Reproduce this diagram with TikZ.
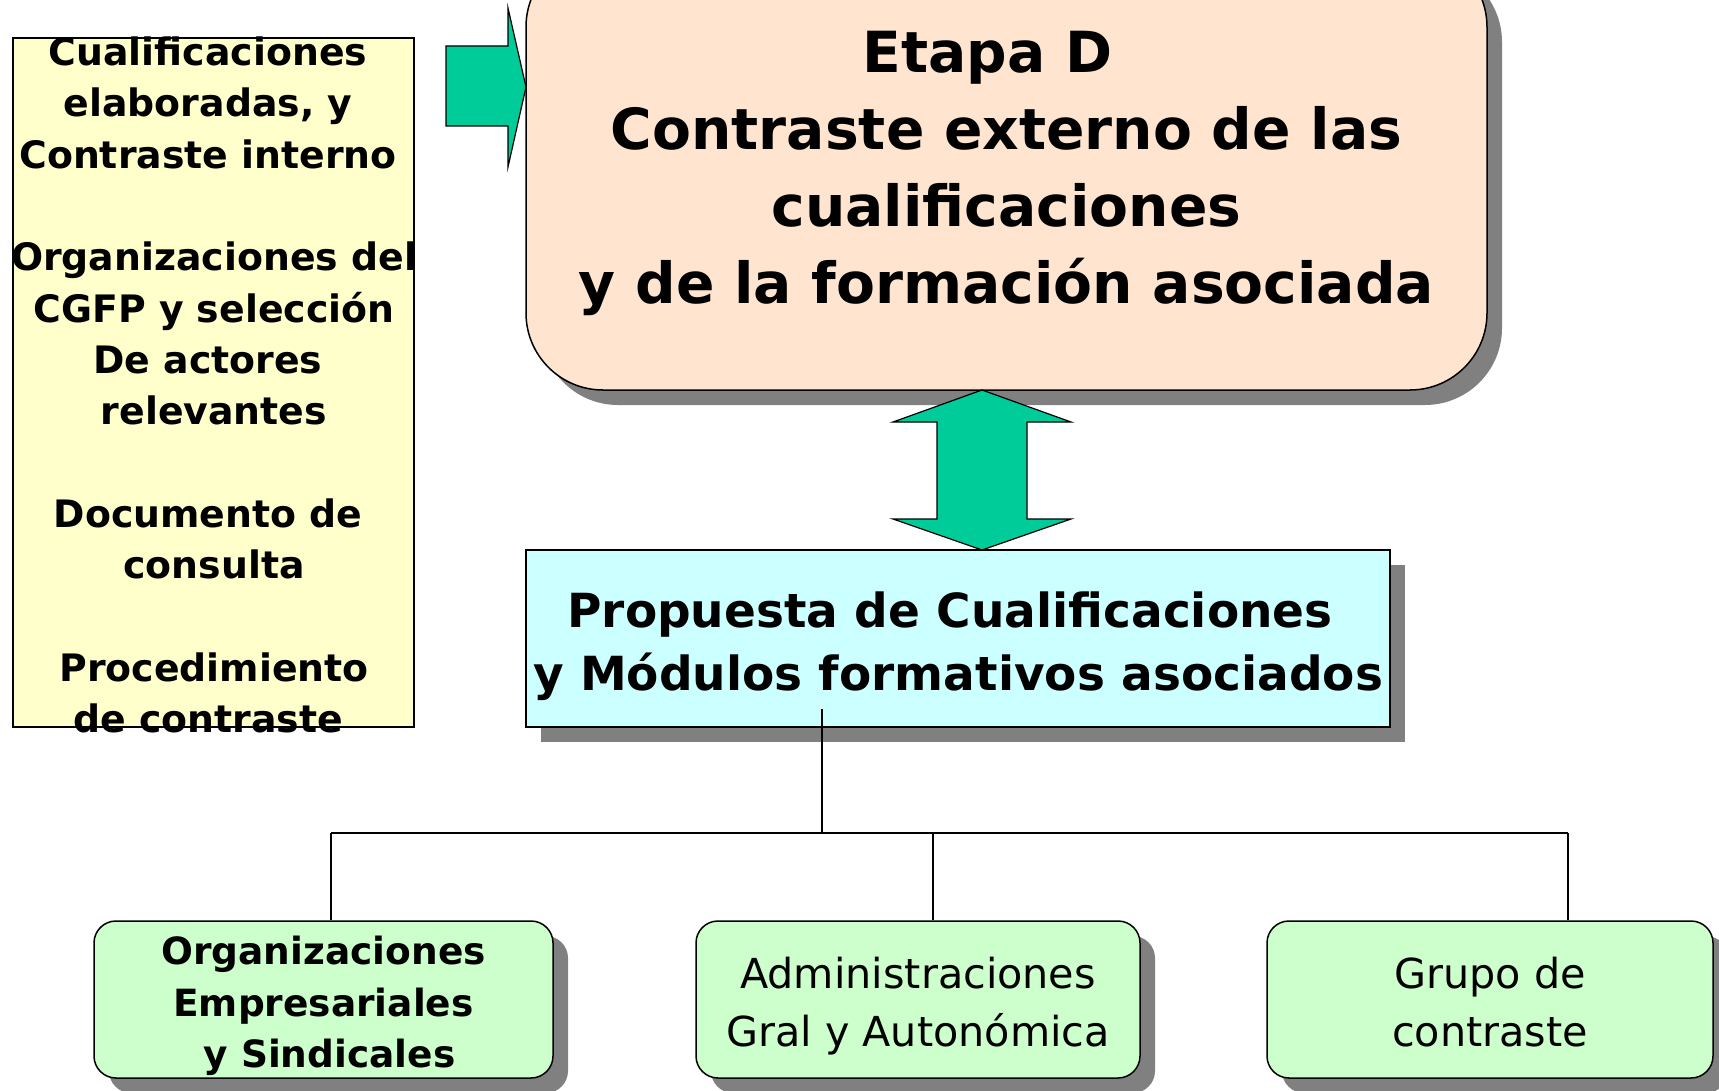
\documentclass[tikz,border=0pt]{standalone}
\usepackage{fontspec}
\setmainfont{DejaVu Sans}
\usetikzlibrary{shadows}
\definecolor{peach}{HTML}{FFE5CF}
\definecolor{paleyellow}{HTML}{FFFFCC}
\definecolor{palecyan}{HTML}{CCFFFF}
\definecolor{palegreen}{HTML}{CCFFCC}
\definecolor{arrowgreen}{HTML}{00CC99}
\definecolor{shadowgray}{RGB}{128,128,128}
\tikzset{
  shad/.style={drop shadow={shadow xshift=15pt,shadow yshift=-15pt,fill=shadowgray,opacity=1}},
  stagebox/.style={draw=black,line width=1.5pt,fill=peach,rounded corners=77pt,shad,
    minimum width=961pt,minimum height=440pt,inner sep=0pt},
  propbox/.style={draw=black,line width=1.5pt,fill=palecyan,shad,
    minimum width=864pt,minimum height=177pt,inner sep=0pt},
  actorbox/.style={draw=black,line width=1.5pt,fill=palegreen,rounded corners=22pt,shad,
    minimum height=157pt,inner sep=0pt},
  inputbox/.style={draw=black,line width=1.2pt,fill=paleyellow,minimum width=401pt,minimum height=689pt,inner sep=0pt},
  txt/.style={align=center,inner sep=0pt},
  bigarrow/.style={draw=black,line width=1.2pt,fill=arrowgreen},
  link/.style={draw=black,line width=1.5pt}
}
\newcommand{\lsp}{\hspace*{12pt}}
\begin{document}
\begin{tikzpicture}[x=1pt,y=-1pt]
\useasboundingbox[fill=white] (0,0) rectangle (1719,1091);

% left input box
\node[inputbox] (inputs) at (213.5,382.5) {};
\node[txt,font=\bfseries\fontsize{37.8}{51.3}\selectfont] (inputtext) at (208,385)
 {Cualificaciones\\elaboradas, y\\Contraste interno\\[51.3pt]
  \lsp Organizaciones del\\\lsp CGFP y selección\\De actores\lsp\\\lsp relevantes\\[51.3pt]
  Documento de\\\lsp consulta\\[51.3pt]
  \lsp Procedimiento\\de contraste};

% right arrow into stage box
\draw[bigarrow] (446,46) -- (508,46) -- (508,8) -- (526,87) -- (508,167) -- (508,126) -- (446,126) -- cycle;

% stage box
\node[stagebox] (stage) at (1006.5,170) {};
\node[txt,font=\bfseries\fontsize{56.7}{77}\selectfont] (stagetext) at (1006.5,173.5)
 {Etapa D\hspace*{38pt}\\Contraste externo de las\\cualificaciones\\y de la formación asociada};

% double arrow
\draw[bigarrow] (982,390) -- (1071,422) -- (1027,422) -- (1027,519) -- (1071,519) -- (982,550)
  -- (893,519) -- (937,519) -- (937,422) -- (893,422) -- cycle;

% proposal box
\node[propbox] (prop) at (958,638.5) {};
\node[txt,font=\bfseries\fontsize{47}{63}\selectfont] (proptext) at (958,646)
 {Propuesta de Cualificaciones\hspace*{16pt}\\y Módulos formativos asociados};

% actor boxes
\node[actorbox,minimum width=459pt] (org) at (323.5,999.5) {};
\node[txt,font=\bfseries\fontsize{37.5}{51.5}\selectfont] (orgtext) at (323.5,1006)
 {Organizaciones\\Empresariales\\\lsp y Sindicales};
\node[actorbox,minimum width=444pt] (adm) at (918,999.5) {};
\node[txt,font=\fontsize{41.3}{58}\selectfont] (admtext) at (918,1006)
 {Administraciones\\Gral y Autonómica};
\node[actorbox,minimum width=446pt] (grp) at (1490,999.5) {};
\node[txt,font=\fontsize{41.3}{58}\selectfont] (grptext) at (1490,1002.5)
 {Grupo de\\contraste};

% connectors
\coordinate (hubtop) at (822,709);
\coordinate (hub) at (822,833);
\coordinate (j1) at (331,833);
\coordinate (j2) at (933,833);
\coordinate (j3) at (1568,833);
\draw[link] (hubtop) -- (hub);
\draw[link] (j1) -- (j3);
\draw[link] (j1) -- (j1 |- org.north);
\draw[link] (j2) -- (j2 |- adm.north);
\draw[link] (j3) -- (j3 |- grp.north);
\end{tikzpicture}
\end{document}
